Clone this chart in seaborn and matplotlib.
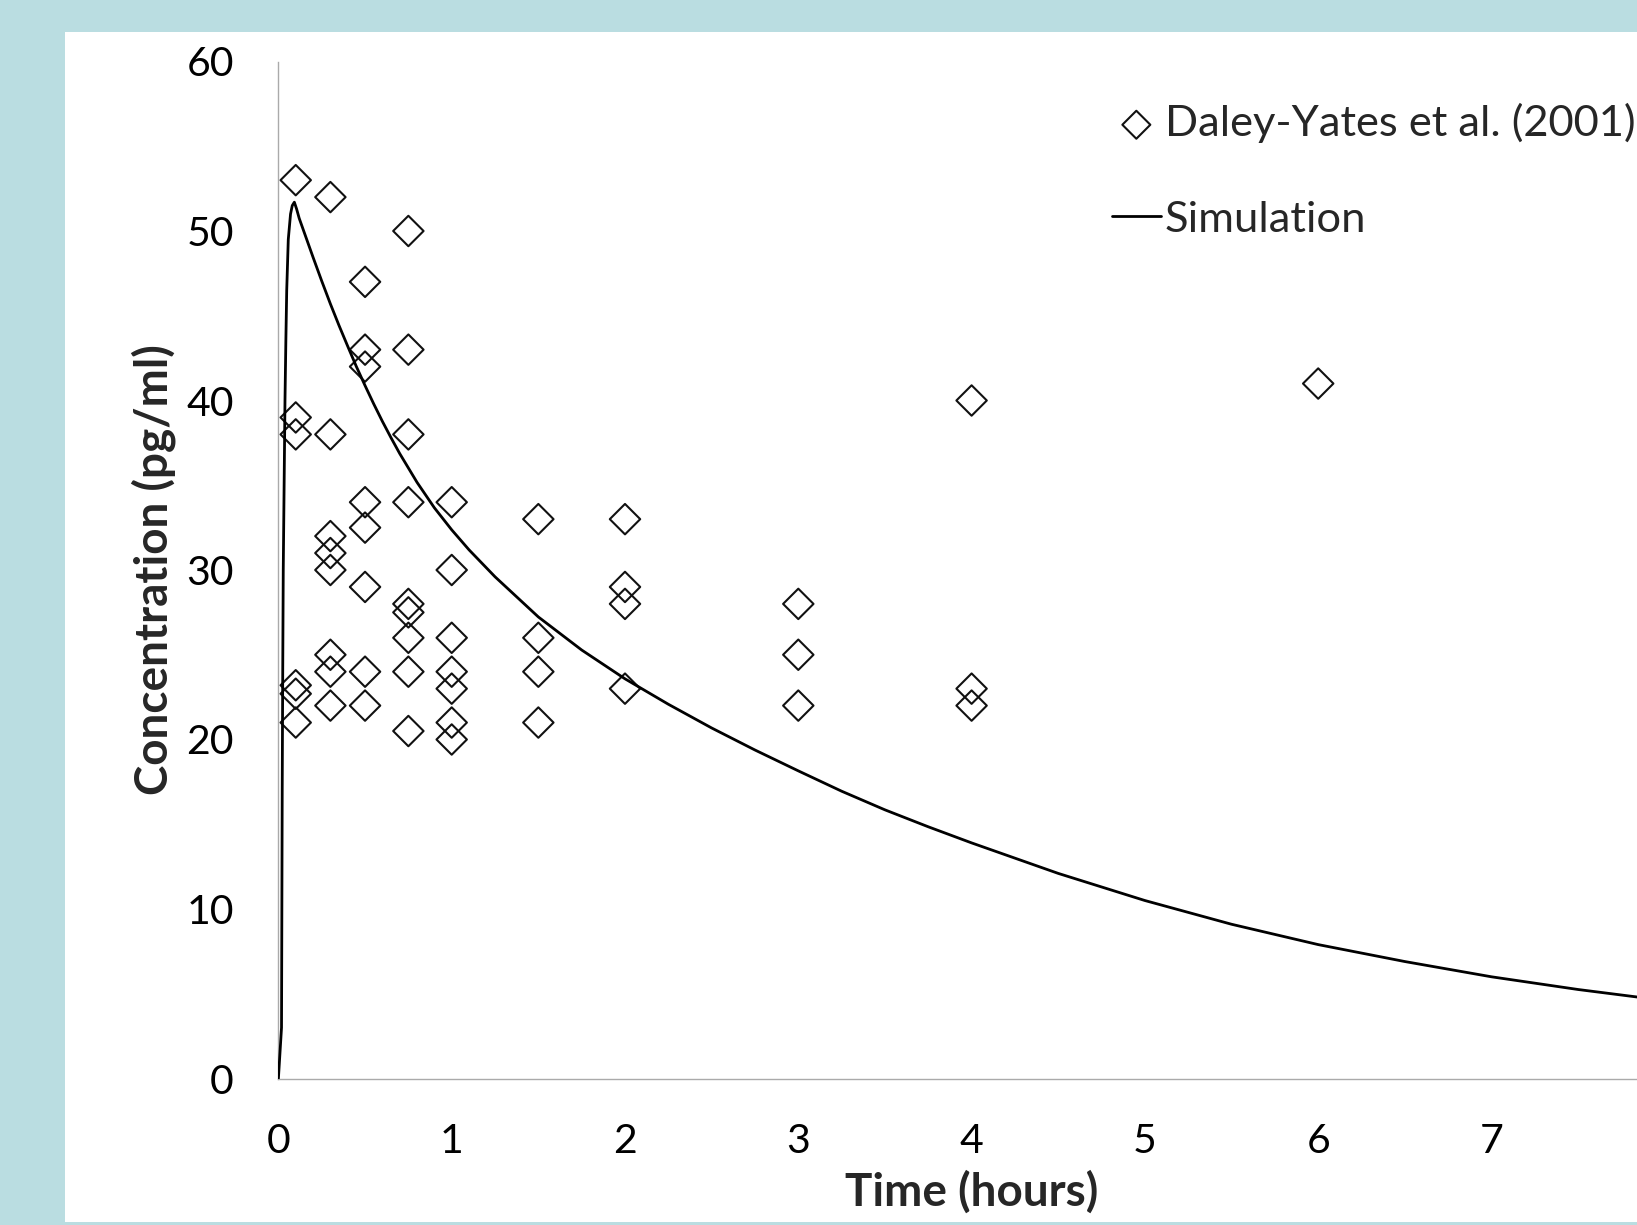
import matplotlib
matplotlib.use("Agg")
import matplotlib.pyplot as plt
from matplotlib.patches import Rectangle
import seaborn as sns

# observed concentrations (Daley-Yates et al. 2001)
obs_time = [0.1, 0.1, 0.1, 0.1, 0.1, 0.1,
            0.3, 0.3, 0.3, 0.3, 0.3, 0.3, 0.3, 0.3,
            0.5, 0.5, 0.5, 0.5, 0.5, 0.5, 0.5, 0.5,
            0.75, 0.75, 0.75, 0.75, 0.75, 0.75, 0.75, 0.75, 0.75,
            1, 1, 1, 1, 1, 1, 1,
            1.5, 1.5, 1.5, 1.5,
            2, 2, 2, 2,
            3, 3, 3,
            4, 4, 4,
            6]
obs_conc = [53, 39, 38, 23.2, 22.7, 21,
            52, 38, 32, 31, 30, 25, 24, 22,
            47, 43, 42, 34, 32.5, 29, 24, 22,
            50, 43, 38, 34, 28, 27.5, 26, 24, 20.5,
            34, 30, 26, 24, 23, 21, 20,
            33, 26, 24, 21,
            33, 29, 28, 23,
            28, 25, 22,
            40, 23, 22,
            41]

# simulated curve
sim_time = [0, 0.018, 0.02, 0.022, 0.025, 0.028, 0.033, 0.038, 0.043, 0.048,
            0.057, 0.07, 0.08, 0.092, 0.105, 0.12, 0.16, 0.2, 0.25, 0.3,
            0.35, 0.4, 0.45, 0.5, 0.55, 0.6, 0.65, 0.7, 0.8, 0.9,
            1.0, 1.1, 1.25, 1.5, 1.75, 2.0, 2.25, 2.5, 2.75, 3.0,
            3.25, 3.5, 3.75, 4.0, 4.5, 5.0, 5.5, 6.0, 6.5, 7.0, 7.5, 8.0]
sim_conc = [0, 3, 10, 17, 24, 30, 35, 40, 43.5, 46.5,
            49.5, 51.0, 51.5, 51.7, 51.3, 50.75, 49.6, 48.45, 47.05, 45.7,
            44.42, 43.2, 42.0, 40.88, 39.8, 38.77, 37.8, 36.87, 35.17, 33.67,
            32.37, 31.19, 29.6, 27.23, 25.28, 23.58, 22.08, 20.68, 19.38, 18.15,
            16.95, 15.85, 14.85, 13.9, 12.1, 10.5, 9.1, 7.9, 6.9, 6.0, 5.25, 4.6]

# the 8 h tick falls just outside the cropped picture
x_ticks = [0, 1, 2, 3, 4, 5, 6, 7]
y_ticks = [0, 10, 20, 30, 40, 50, 60]

sns.set_style("white")
plt.rcParams["font.family"] = ["Lato", "DejaVu Sans"]

W, H = 1637, 1225
fig = plt.figure(figsize=(W / 100, H / 100), dpi=100, facecolor="#badde1")
# white slide panel
fig.add_artist(Rectangle((65 / W, 3 / H), 1.0, (1222 - 32) / H, transform=fig.transFigure,
                         facecolor="white", edgecolor="none", zorder=-5))

ax = fig.add_axes([278.4 / W, 146.5 / H, 1386.4 / W, 1017 / H])
ax.set_facecolor("white")

sns.scatterplot(x=obs_time, y=obs_conc, marker="D", s=240, facecolor="none",
                edgecolor="#111111", linewidth=1.5, label="Daley-Yates et al. (2001)",
                ax=ax, zorder=3)
sns.lineplot(x=sim_time, y=sim_conc, color="black", linewidth=2.0,
             label="Simulation", ax=ax, zorder=4)

ax.set_xlim(0, 8)
ax.set_ylim(0, 60)
ax.set_xticks(x_ticks)
ax.set_yticks(y_ticks)

for s in ["top", "right"]:
    ax.spines[s].set_visible(False)
for s in ["left", "bottom"]:
    ax.spines[s].set_color("#aaaaaa")
    ax.spines[s].set_linewidth(1.0)

ax.tick_params(axis="both", direction="out", length=11, width=1.0, color="#aaaaaa",
               labelsize=29.5, labelcolor="black", pad=21)

ax.set_xlabel("Time (hours)", fontsize=33, fontweight="bold")
ax.set_ylabel("Concentration (pg/ml)", fontsize=33, fontweight="bold")
ax.xaxis.label.set_va("baseline")
ax.xaxis.set_label_coords(0.5, (1078.5 - 1206) / 1017)
ax.yaxis.label.set_va("baseline")
ax.yaxis.label.set_rotation_mode("anchor")
ax.yaxis.set_label_coords((167 - 278.4) / 1386.4, 0.5)

handles, labels = ax.get_legend_handles_labels()
order = [labels.index("Daley-Yates et al. (2001)"), labels.index("Simulation")]
ax.legend([handles[i] for i in order], [labels[i] for i in order],
          loc="upper left", bbox_to_anchor=(1112 / W, 1 - 103 / H),
          bbox_transform=fig.transFigure, frameon=False, fontsize=31.3,
          handlelength=1.12, handletextpad=0.1, labelspacing=1.32,
          borderpad=0, borderaxespad=0, markerscale=0.92, scatterpoints=1)

fig.savefig("out.png", dpi=100, facecolor=fig.get_facecolor())
